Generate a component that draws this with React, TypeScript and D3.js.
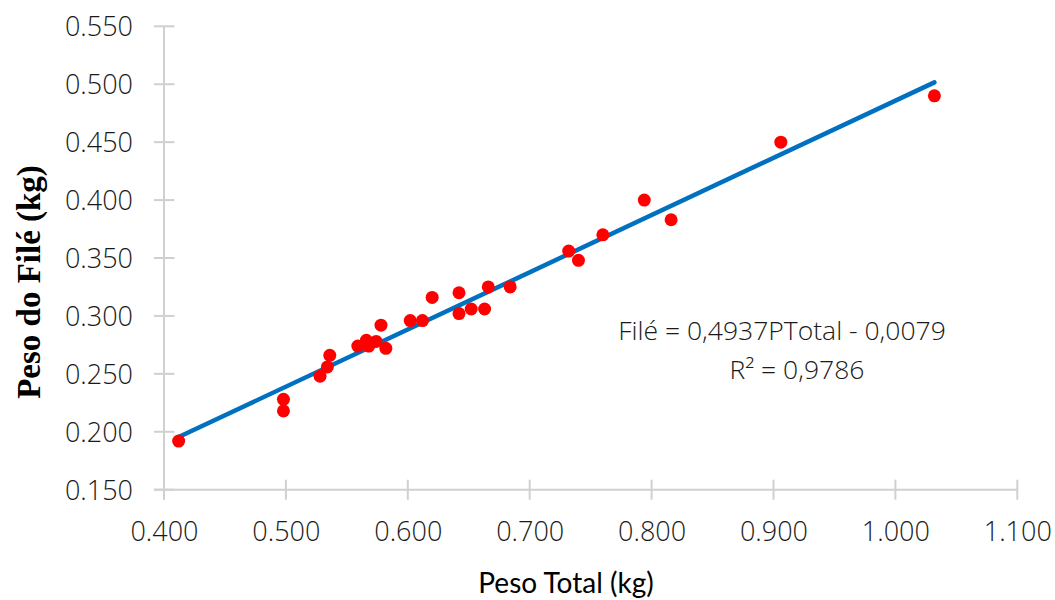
import React, { useEffect, useRef } from "react";
import * as d3 from "d3";

const pesoTotal = [
  0.412, 0.498, 0.498, 0.528, 0.534, 0.536, 0.559, 0.566, 0.568, 0.574,
  0.578, 0.582, 0.602, 0.612, 0.620, 0.642, 0.642, 0.652, 0.663, 0.666,
  0.684, 0.732, 0.740, 0.760, 0.794, 0.816, 0.906, 1.032,
];
const pesoFile = [
  0.192, 0.228, 0.218, 0.248, 0.256, 0.266, 0.274, 0.279, 0.274, 0.278,
  0.292, 0.272, 0.296, 0.296, 0.316, 0.320, 0.302, 0.306, 0.306, 0.325,
  0.325, 0.356, 0.348, 0.370, 0.400, 0.383, 0.450, 0.490,
];
const xTicks = [0.4, 0.5, 0.6, 0.7, 0.8, 0.9, 1.0, 1.1];
const yTicks = [0.15, 0.2, 0.25, 0.3, 0.35, 0.4, 0.45, 0.5, 0.55];
const slope = 0.4937;
const intercept = -0.0079;
const equationText = "Filé = 0,4937PTotal - 0,0079";
const r2Text = "R² = 0,9786";
const xTitle = "Peso Total (kg)";
const yTitle = "Peso do Filé (kg)";

const W = 1055;
const H = 600;

export default function App() {
  const ref = useRef<SVGSVGElement>(null);

  useEffect(() => {
    const svg = d3.select(ref.current);
    svg.selectAll("*").remove();

    const x = d3.scaleLinear().domain([0.4, 1.1]).range([164, 1017.3]);
    const y = d3.scaleLinear().domain([0.15, 0.55]).range([489.7, 26.3]);
    const axisColor = "#d0d0d0";
    const tickFont = "'Open Sans', sans-serif";

    // y axis
    const yAxis = d3
      .axisLeft(y)
      .tickValues(yTicks)
      .tickSize(0)
      .tickFormat((d) => d3.format(".3f")(d as number));
    const gy = svg.append("g").attr("transform", `translate(164,0)`).call(yAxis);
    gy.select(".domain").remove();
    gy.selectAll("text")
      .attr("x", -31)
      .attr("dy", "0.35em")
      .attr("fill", "#1a1a1a")
      .style("font-family", tickFont)
      .style("font-weight", 300)
      .style("font-size", "27px");
    svg
      .append("line")
      .attr("x1", 164).attr("x2", 164)
      .attr("y1", y(0.55)).attr("y2", y(0.15) + 10)
      .attr("stroke", axisColor).attr("stroke-width", 2);
    svg
      .selectAll(".ytick")
      .data(yTicks)
      .enter()
      .append("line")
      .attr("x1", 154).attr("x2", 174.5)
      .attr("y1", (d) => y(d)).attr("y2", (d) => y(d))
      .attr("stroke", axisColor).attr("stroke-width", 2);

    // x axis
    const xAxis = d3
      .axisBottom(x)
      .tickValues(xTicks)
      .tickSize(0)
      .tickFormat((d) => d3.format(".3f")(d as number));
    const gx = svg.append("g").attr("transform", `translate(0,${y(0.15)})`).call(xAxis);
    gx.select(".domain").remove();
    gx.selectAll("text")
      .attr("y", 42)
      .attr("dy", "0.35em")
      .attr("fill", "#1a1a1a")
      .style("font-family", tickFont)
      .style("font-weight", 300)
      .style("font-size", "27px");
    svg
      .append("line")
      .attr("x1", x(0.4) - 10).attr("x2", x(1.1))
      .attr("y1", y(0.15)).attr("y2", y(0.15))
      .attr("stroke", axisColor).attr("stroke-width", 2);
    svg
      .selectAll(".xtick")
      .data(xTicks)
      .enter()
      .append("line")
      .attr("x1", (d) => x(d)).attr("x2", (d) => x(d))
      .attr("y1", y(0.15) - 10).attr("y2", y(0.15) + 10)
      .attr("stroke", axisColor).attr("stroke-width", 2);

    // trend line
    const xExt = d3.extent(pesoTotal) as [number, number];
    const line = d3
      .line<number>()
      .x((d) => x(d))
      .y((d) => y(slope * d + intercept));
    svg
      .append("path")
      .attr("d", line(xExt))
      .attr("fill", "none")
      .attr("stroke", "#0070c0")
      .attr("stroke-width", 4.5)
      .attr("stroke-linecap", "round");

    // points
    svg
      .selectAll(".pt")
      .data(pesoTotal.map((v, i) => [v, pesoFile[i]]))
      .enter()
      .append("circle")
      .attr("cx", (d) => x(d[0]))
      .attr("cy", (d) => y(d[1]))
      .attr("r", 6.5)
      .attr("fill", "#ff0000");

    // equation
    svg
      .append("text")
      .attr("x", 782)
      .attr("y", 340)
      .attr("text-anchor", "middle")
      .attr("fill", "#1a1a1a")
      .style("font-family", tickFont)
      .style("font-weight", 300)
      .style("font-size", "26.5px")
      .text(equationText);
    svg
      .append("text")
      .attr("x", 797)
      .attr("y", 379)
      .attr("text-anchor", "middle")
      .attr("fill", "#1a1a1a")
      .style("font-family", tickFont)
      .style("font-weight", 300)
      .style("font-size", "26.5px")
      .text(r2Text);

    // axis titles
    svg
      .append("text")
      .attr("x", 566)
      .attr("y", 593)
      .attr("text-anchor", "middle")
      .attr("fill", "#000")
      .style("font-family", "Lato, sans-serif")
      .style("font-size", "28px")
      .text(xTitle);
    svg
      .append("text")
      .attr("transform", `translate(40,282) rotate(-90)`)
      .attr("text-anchor", "middle")
      .attr("fill", "#000")
      .style("font-family", "'Liberation Serif', serif")
      .style("font-weight", 700)
      .style("font-size", "33px")
      .text(yTitle);
  }, []);

  return (
    <svg
      ref={ref}
      width={W}
      height={H}
      style={{ position: "absolute", left: 0, top: 0, background: "#fff" }}
    />
  );
}
